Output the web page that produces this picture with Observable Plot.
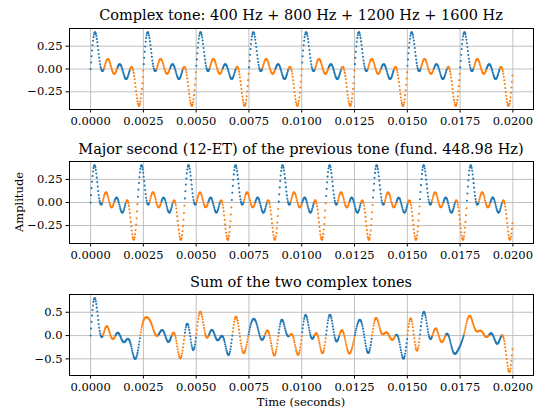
<!DOCTYPE html>
<html><head><meta charset="utf-8">
<script src="https://cdn.jsdelivr.net/npm/d3@7"></script>
<script src="https://cdn.jsdelivr.net/npm/@observablehq/plot@0.6"></script>
<style>
body{margin:0;background:#fff;}
#fig{position:relative;width:537px;height:410px;font-family:"DejaVu Serif",serif;color:#000;overflow:hidden;}
#fig svg{position:absolute;left:0;}
.ttl{position:absolute;left:69px;width:464px;text-align:center;font-size:14.5px;line-height:16px;white-space:nowrap;}
.lbl{position:absolute;font-size:11.5px;line-height:13px;white-space:nowrap;}
</style></head><body><div id="fig"></div>
<script>
// Parameters read from the titles / picture
const partialsHz = [400, 800, 1200, 1600];      // first complex tone
const partialAmp = [0.125, 0.125, 0.125, 0.125]; // each partial (peak of sum ≈ 0.40)
const semitones = 2;                              // major second, 12-ET → fund. 448.98 Hz
const sampleRate = 44100;
const duration = 0.02;
const titles = [
  "Complex tone: 400 Hz + 800 Hz + 1200 Hz + 1600 Hz",
  "Major second (12-ET) of the previous tone (fund. 448.98 Hz)",
  "Sum of the two complex tones"
];
const xTicks = [0, 0.0025, 0.005, 0.0075, 0.01, 0.0125, 0.015, 0.0175, 0.02];
const yTicksTone = [-0.25, 0, 0.25];
const yTicksSum = [-0.5, 0, 0.5];
const segColors = ["#1f77b4", "#ff7f0e"];

// synthesize the tones from the stated partials
const ratio = Math.pow(2, semitones / 12);
const nSamples = Math.round(sampleRate * duration);
const tone = (scale, t) => partialsHz.reduce((s, f, k) => s + partialAmp[k] * Math.sin(2 * Math.PI * f * scale * t), 0);
const times = d3.range(nSamples).map(i => i / sampleRate);
const v1 = times.map(t => tone(1, t));
const v2 = times.map(t => tone(ratio, t));
const v3 = v1.map((v, i) => v + v2[i]);

// colour toggles at every upward zero crossing
function toRows(vals) {
  let seg = 0;
  return vals.map((v, i) => {
    if (i > 0 && vals[i - 1] < 0 && v >= 0) seg++;
    return {t: times[i], v, seg};
  });
}

function pad(ext) { const m = (ext[1] - ext[0]) * 0.05; return [ext[0] - m, ext[1] + m]; }
const xDomain = pad([times[0], times[times.length - 1]]);

const fig = document.getElementById("fig");

function panel(vals, o) {
  const rows = toRows(vals);
  const chart = Plot.plot({
    width: 537, height: o.height,
    marginTop: o.mt, marginBottom: o.mb, marginLeft: 69, marginRight: 4,
    style: {fontFamily: "'DejaVu Serif', serif", fontSize: "11.5px", background: "transparent", color: "#000", overflow: "visible"},
    x: {domain: xDomain},
    y: {domain: pad(d3.extent(vals))},
    marks: [
      Plot.gridX(xTicks, {stroke: "#b0b0b0", strokeOpacity: 1, strokeWidth: 0.8}),
      Plot.gridY(o.yTicks, {stroke: "#b0b0b0", strokeOpacity: 1, strokeWidth: 0.8}),
      Plot.dot(rows.filter(d => d.seg % 2 === 0), {x: "t", y: "v", r: 1.05, fill: segColors[0], stroke: null}),
      Plot.dot(rows.filter(d => d.seg % 2 === 1), {x: "t", y: "v", r: 1.05, fill: segColors[1], stroke: null}),
      Plot.frame({stroke: "#000", strokeWidth: 1}),
      Plot.axisX(xTicks, {tickSize: 3.5, tickPadding: 4, tickFormat: d => d3.format(".4f")(d), label: null, stroke: "#000"}),
      Plot.axisY(o.yTicks, {tickSize: 3.5, tickPadding: 3.5, tickFormat: o.fmt, label: null, stroke: "#000"})
    ]
  });
  chart.style.top = o.top + "px";
  fig.appendChild(chart);
  const tt = document.createElement("div");
  tt.className = "ttl";
  tt.textContent = o.title;
  tt.style.top = o.titleTop + "px";
  fig.appendChild(tt);
}

panel(v1, {top: 0, height: 135, mt: 28, mb: 26, yTicks: yTicksTone, fmt: d3.format(".2f"), title: titles[0], titleTop: 7});
panel(v2, {top: 135, height: 135, mt: 26, mb: 27, yTicks: yTicksTone, fmt: d3.format(".2f"), title: titles[1], titleTop: 141});
panel(v3, {top: 270, height: 140, mt: 24, mb: 35, yTicks: yTicksSum, fmt: d3.format(".1f"), title: titles[2], titleTop: 274});

const xl = document.createElement("div");
xl.className = "lbl";
xl.textContent = "Time (seconds)";
xl.style.left = "301px"; xl.style.top = "396px"; xl.style.transform = "translateX(-50%)";
fig.appendChild(xl);

const yl = document.createElement("div");
yl.className = "lbl";
yl.textContent = "Amplitude";
yl.style.left = "19px"; yl.style.top = "202px";
yl.style.transform = "translate(-50%,-50%) rotate(-90deg)";
fig.appendChild(yl);
</script>
</body></html>
